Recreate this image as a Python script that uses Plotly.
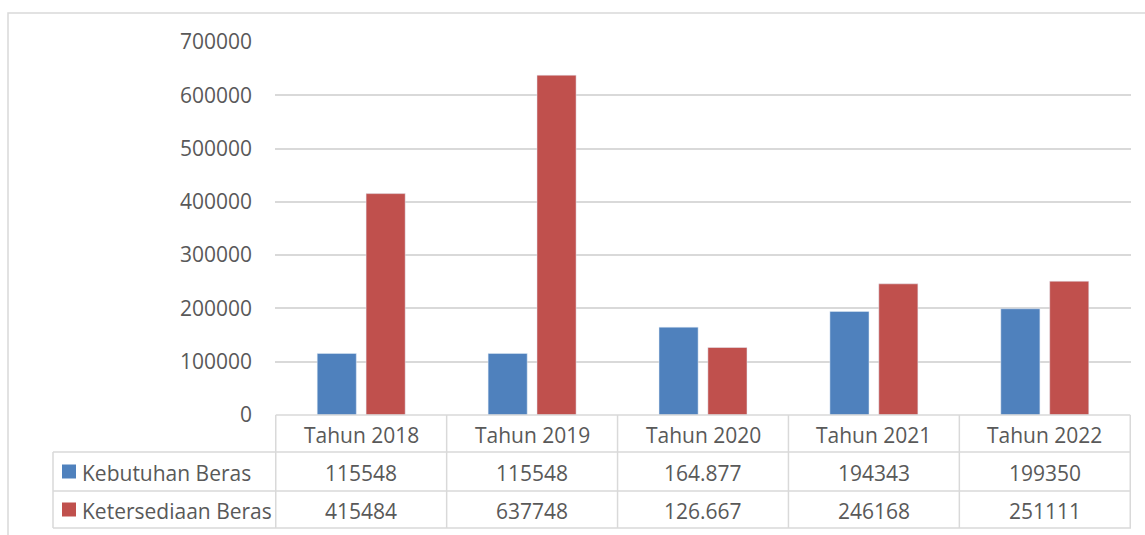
import plotly.graph_objects as go

# data
tahun = ['Tahun 2018', 'Tahun 2019', 'Tahun 2020', 'Tahun 2021', 'Tahun 2022']
kebutuhan = [115548, 115548, 164877, 194343, 199350]
ketersediaan = [415484, 637748, 126667, 246168, 251111]
# as printed in the data table
kebutuhan_lbl = ['115548', '115548', '164.877', '194343', '199350']
ketersediaan_lbl = ['415484', '637748', '126.667', '246168', '251111']
series = ['Kebutuhan Beras', 'Ketersediaan Beras']
colors = ['#4F81BD', '#C0504D']

W, H = 1145, 535
L, R, T, B = 275, 14, 42, 120
pw, ph = W - L - R, H - T - B
txt = '#595959'
grid = '#D9D9D9'
font = 'Open Sans'
fs = 21


def px(p):
    return (p - L) / pw


def py(p):
    return (H - B - p) / ph


fig = go.Figure()
fig.add_bar(x=tahun, y=kebutuhan, name=series[0], marker_color=colors[0])
fig.add_bar(x=tahun, y=ketersediaan, name=series[1], marker_color=colors[1])

shapes = []
ann = []
# outer chart border
shapes.append(dict(type='rect', xref='paper', yref='paper', x0=px(8), x1=px(1160),
                   y0=py(560), y1=py(13), line=dict(color=grid, width=1.5)))

# data table lines
rows = [415, 452, 491, 528]
n = len(tahun)
shapes.append(dict(type='line', xref='x', yref='paper', x0=-0.5, x1=n - 0.5,
                   y0=py(rows[0]), y1=py(rows[0]), line=dict(color=grid, width=1.5)))
for r in rows[1:]:
    shapes.append(dict(type='line', xref='paper', yref='paper', x0=px(53), x1=1,
                       y0=py(r), y1=py(r), line=dict(color=grid, width=1.5)))
shapes.append(dict(type='line', xref='paper', yref='paper', x0=px(53), x1=px(53),
                   y0=py(rows[1]), y1=py(rows[3]), line=dict(color=grid, width=1.5)))
for i in range(n + 1):
    shapes.append(dict(type='line', xref='x', yref='paper', x0=i - 0.5, x1=i - 0.5,
                       y0=py(rows[0]), y1=py(rows[3]), line=dict(color=grid, width=1.5)))

# legend keys in the table
for k in range(2):
    yc = (rows[k + 1] + rows[k + 2]) / 2
    shapes.append(dict(type='rect', xref='paper', yref='paper', x0=px(62), x1=px(76),
                       y0=py(yc + 7), y1=py(yc - 7), fillcolor=colors[k], line_width=0))

# table text
cell_font = dict(size=fs, color=txt, family=font)
for i, t in enumerate(tahun):
    for k, lbl in enumerate([t, kebutuhan_lbl[i], ketersediaan_lbl[i]]):
        ann.append(dict(x=t, xref='x', yref='paper', y=py((rows[k] + rows[k + 1]) / 2 + 1),
                        text=lbl, showarrow=False, xanchor='center', yanchor='middle',
                        font=cell_font))
for k in range(2):
    ann.append(dict(x=px(80), xref='paper', yref='paper', y=py((rows[k + 1] + rows[k + 2]) / 2 + 1),
                    text=series[k], showarrow=False, xanchor='left', yanchor='middle',
                    font=cell_font))

fig.update_layout(
    width=W, height=H,
    margin=dict(l=L, r=R, t=T, b=B),
    plot_bgcolor='white', paper_bgcolor='white',
    showlegend=False,
    bargap=0.428, bargroupgap=0.2,
    font=dict(family=font, color=txt, size=fs),
    shapes=shapes, annotations=ann,
)
fig.update_xaxes(showticklabels=False, showgrid=False, zeroline=False, showline=False)
fig.update_yaxes(range=[0, 700000], dtick=100000, showgrid=True, gridcolor=grid, gridwidth=1.5,
                 zeroline=False, showline=False, ticks='', ticklabelstandoff=22,
                 tickfont=dict(size=fs, color=txt, family=font), tickformat='d')

fig.write_html('out.html', config={'displayModeBar': False},
               post_script="document.body.style.margin='0';")
